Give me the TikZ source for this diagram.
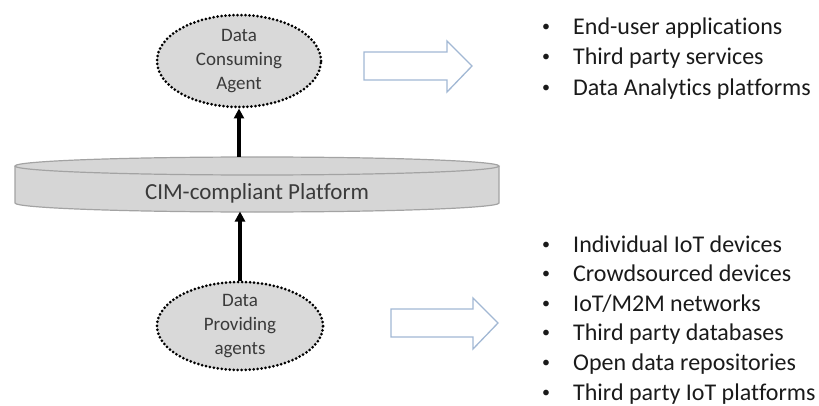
\documentclass[tikz,border=0pt]{standalone}
\usepackage{fontspec}
\setmainfont{Carlito}[Ligatures=NoCommon]
\usetikzlibrary{shapes.geometric,arrows.meta}
\definecolor{ellfill}{HTML}{D9D9D9}
\definecolor{platfill}{HTML}{D6D6D6}
\definecolor{platline}{HTML}{A3A3A3}
\definecolor{ellText}{HTML}{3A3A3A}
\definecolor{arrowline}{HTML}{A2B8D4}
\definecolor{listText}{HTML}{1A1A1A}
\tikzset{
  agent/.style={ellipse, fill=ellfill, draw=black, line width=3pt,
    dash pattern=on 0pt off 4pt, line cap=round,
    minimum width=164pt, minimum height=92pt, inner sep=0pt},
  agenttext/.style={align=center, text=ellText, inner sep=0pt,
    font=\fontsize{19}{24}\selectfont},
  conn/.style={line width=3.2pt, -{Triangle[length=10pt,width=10pt]}},
  blockarrow/.style={draw=arrowline, fill=white, line width=1.3pt, line join=miter},
  listitem/.style={anchor=base west, inner sep=0pt, text=listText,
    font=\fontsize{24}{30}\selectfont},
  plattext/.style={text=ellText, inner sep=0pt, font=\fontsize{23}{28}\selectfont}
}
\newcommand{\bitem}[1]{\makebox[31pt][l]{\raisebox{3pt}{\fontsize{16}{16}\selectfont\textbullet}}#1}
\begin{document}
\begin{tikzpicture}[x=1pt,y=1pt]
\useasboundingbox (0,0) rectangle (819,405);
% platform
\fill[platfill] (15,239) -- (15,202) arc[start angle=180,end angle=360,x radius=242,y radius=9] -- (499,239) -- cycle;
\draw[platline, line width=1.2pt] (15,239) -- (15,202) arc[start angle=180,end angle=360,x radius=242,y radius=9] -- (499,239);
\filldraw[fill=platfill, draw=platline, line width=1.2pt] (257,239) ellipse[x radius=242, y radius=9];
\node[plattext] (plat) at (257,212) {CIM-compliant Platform};
\coordinate (plattop) at (239,248);
\coordinate (platbot) at (240,193.5);
% agents
\node[agent] (cons) at (239,344) {};
\node[agenttext] (constext) at (cons.center) {Data\\Consuming\\Agent};
\node[agent, minimum width=166pt, minimum height=88pt] (prov) at (240,79) {};
\node[agenttext] (provtext) at (prov.center) {Data\\Providing\\agents};
% connectors
\draw[conn] (plattop) -- (cons.south);
\draw[conn] (prov.north) -- (platbot);
% block arrows
\draw[blockarrow] (364,353) -- (447,353) -- (447,364) -- (472,339) -- (447,313) -- (447,325) -- (364,325) -- cycle;
\draw[blockarrow] (391,96) -- (473,96) -- (473,107) -- (498,82) -- (473,56) -- (473,68) -- (391,68) -- cycle;
% top list
\node[listitem] (t1) at (542,370) {\bitem{End-user applications}};
\node[listitem] (t2) at (542,340) {\bitem{Third party services}};
\node[listitem] (t3) at (542,309) {\bitem{Data Analytics platforms}};
% bottom list
\node[listitem] (b1) at (542,153) {\bitem{Individual IoT devices}};
\node[listitem] (b2) at (542,123.4) {\bitem{Crowdsourced devices}};
\node[listitem] (b3) at (542,93.8) {\bitem{IoT/M2M networks}};
\node[listitem] (b4) at (542,64.2) {\bitem{Third party databases}};
\node[listitem] (b5) at (542,34.6) {\bitem{Open data repositories}};
\node[listitem] (b6) at (542,5) {\bitem{Third party IoT platforms}};
\end{tikzpicture}
\end{document}
